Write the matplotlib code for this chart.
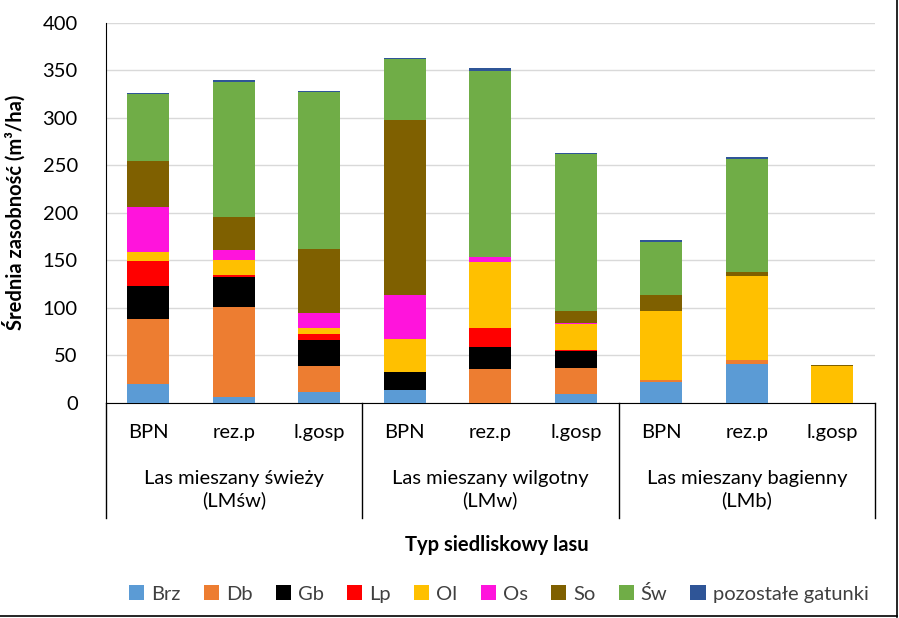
import matplotlib.pyplot as plt
import numpy as np

plt.rcParams['font.family'] = ['Lato', 'DejaVu Sans']

sub_labels = ["BPN", "rez.p", "l.gosp"] * 3
group_labels = ["Las mieszany świeży\n(LMśw)", "Las mieszany wilgotny\n(LMw)",
                "Las mieszany bagienny\n(LMb)"]

species = ["Brz", "Db", "Gb", "Lp", "Ol", "Os", "So", "Św", "pozostałe gatunki"]
colors = ["#5B9BD5", "#ED7D31", "#000000", "#FF0000", "#FFC000",
          "#FF14DC", "#7F6000", "#70AD47", "#2F5597"]

# values per bar (m3/ha)
brz = [20, 6, 11, 13, 0, 9, 22, 41, 0]
db = [68, 95, 27, 0, 35, 27, 2, 4, 0]
gb = [35, 31, 28, 19, 23, 18, 0, 0, 0]
lp = [26, 2, 6, 0, 20, 1, 0, 0, 0]
ol = [10, 16, 7, 35, 70, 28, 72, 88, 39]
os_ = [47, 11, 15, 46, 5, 1, 0, 0, 0]
so = [49, 34, 68, 185, 0, 12, 17, 5, 1]
sw = [70, 143, 165, 64, 196, 166, 56, 119, 0]
poz = [1, 2, 1, 1, 4, 1, 2, 2, 0]

series = [brz, db, gb, lp, ol, os_, so, sw, poz]

fs = 14.5

fig = plt.figure(figsize=(8.99, 6.18), dpi=100)
ax = fig.add_axes([0.1174, 0.3487, 0.8559, 0.6141])

x = np.arange(len(sub_labels))
bottom = np.zeros(len(x))
for name, vals, c in zip(species, series, colors):
    ax.bar(x, vals, 0.49, bottom=bottom, color=c, label=name, zorder=3)
    bottom += np.array(vals)

ax.set_xlim(-0.5, 8.5)
ax.set_ylim(0, 400)
ax.set_yticks(range(0, 401, 50))
ax.yaxis.grid(True, color="#D9D9D9", linewidth=1, zorder=0)
ax.tick_params(axis="y", length=0, pad=20, labelsize=fs)
ax.set_xticks([])
for s in ["top", "right"]:
    ax.spines[s].set_visible(False)
ax.spines["left"].set_color("black")
ax.spines["bottom"].set_color("black")

tr = ax.get_xaxis_transform()
for i, lab in enumerate(sub_labels):
    ax.text(i, -0.078, lab, transform=tr, ha="center", va="center", fontsize=fs)
for g, lab in enumerate(group_labels):
    ax.text(g * 3 + 1, -0.229, lab, transform=tr, ha="center", va="center",
            fontsize=fs, linespacing=1.25)
for b in [-0.5, 2.5, 5.5, 8.5]:
    ax.plot([b, b], [0, -0.304], transform=tr, color="black", lw=1, clip_on=False)

ax.set_ylabel("Średnia zasobność (m³/ha)", fontsize=fs, fontweight="bold")
ax.yaxis.set_label_coords(-0.104, 0.5)

fig.text(0.553, 0.118, "Typ siedliskowy lasu", ha="center", va="center",
         fontsize=fs, fontweight="bold")

fig.legend(loc="center", bbox_to_anchor=(0.555, 0.039), ncol=9, frameon=False,
           fontsize=fs, handlelength=0.75, handleheight=0.75, handletextpad=0.35,
           columnspacing=1.15, labelcolor="#404040")

# chart border (right and bottom edges visible)
fig.add_artist(plt.Line2D([0.9983, 0.9983], [0.002, 1], color="black", lw=1.2))
fig.add_artist(plt.Line2D([0, 0.9983], [0.0025, 0.0025], color="black", lw=1.2))

fig.savefig("out.png", dpi=100)
